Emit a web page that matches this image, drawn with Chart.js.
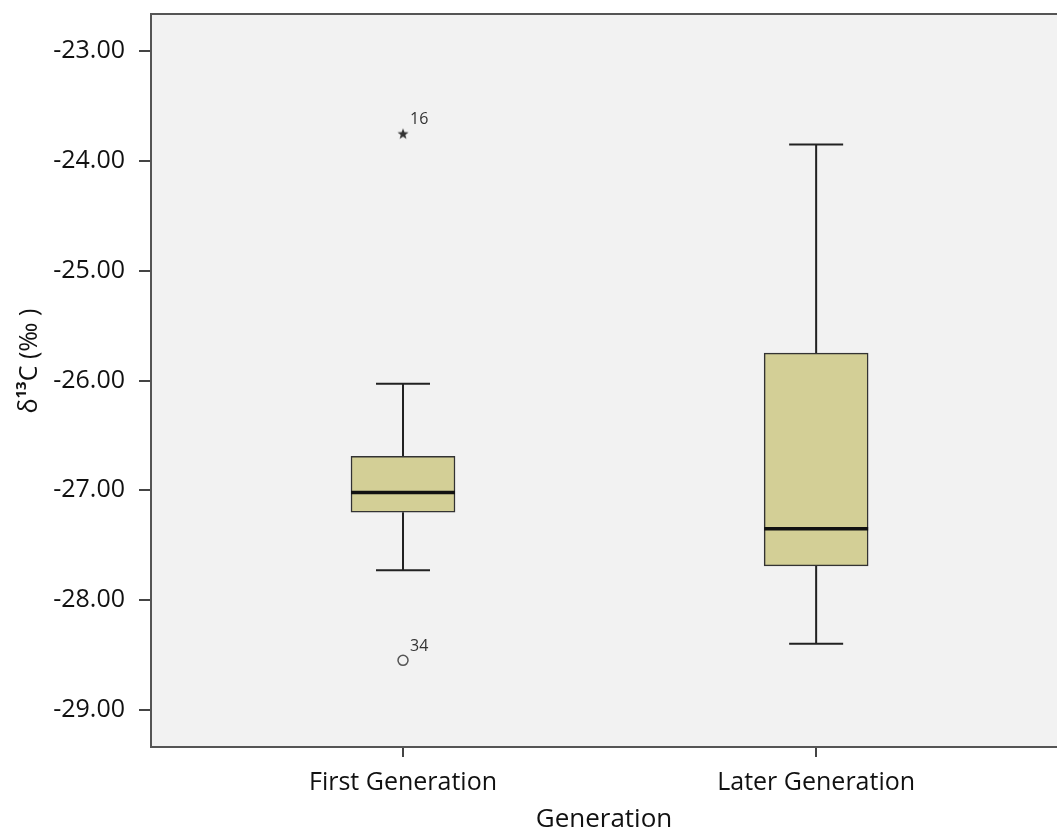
<!DOCTYPE html>
<html>
<head>
<meta charset="utf-8">
<script src="https://cdn.jsdelivr.net/npm/chart.js@4"></script>
<style>
  html, body { margin: 0; padding: 0; background: #fff; overflow: hidden; }
  canvas { display: block; }
</style>
</head>
<body>
<canvas id="myChart" width="1057" height="835"></canvas>
<script>
const categories = ['First Generation', 'Later Generation'];
const q1 = [-27.20, -27.69];
const q3 = [-26.69, -25.75];
const medians = [-27.02, -27.35];
const whiskerLow = [-27.73, -28.40];
const whiskerHigh = [-26.03, -23.85];
const outlierGroup = [1, 1];
const outlierValue = [-23.75, -28.55];
const outlierCase = ['16', '34'];
const yTicks = [-29, -28, -27, -26, -25, -24, -23];

const FONT = "'Open Sans', 'DejaVu Sans', sans-serif";

// small filled star used for the extreme value marker
const star = document.createElement('canvas');
star.width = 12; star.height = 12;
(function () {
    const c = star.getContext('2d');
    c.fillStyle = '#333';
    c.beginPath();
    for (let i = 0; i < 10; i++) {
        const r = i % 2 ? 2.4 : 5.8;
        const a = -Math.PI / 2 + i * Math.PI / 5;
        c.lineTo(6 + r * Math.cos(a), 6.5 + r * Math.sin(a));
    }
    c.closePath();
    c.fill();
})();

const noPad = s => { s.paddingTop = 0; s.paddingBottom = 0; s.paddingLeft = 0; s.paddingRight = 0; };

const boxPlot = {
    id: 'boxPlot',
    beforeDraw(chart) {
        const { ctx, chartArea: a } = chart;
        ctx.save();
        ctx.fillStyle = '#f2f2f2';
        ctx.fillRect(a.left, a.top, a.right - a.left, a.bottom - a.top);
        ctx.restore();
    },
    beforeDatasetsDraw(chart) {
        const { ctx, scales: { x, y } } = chart;
        ctx.save();
        ctx.strokeStyle = '#222';
        ctx.lineWidth = 2;
        categories.forEach((c, i) => {
            const cx = x.getPixelForValue(i + 1);
            const half = 27;
            ctx.beginPath();
            ctx.moveTo(cx, y.getPixelForValue(whiskerLow[i]));
            ctx.lineTo(cx, y.getPixelForValue(q1[i]));
            ctx.moveTo(cx, y.getPixelForValue(q3[i]));
            ctx.lineTo(cx, y.getPixelForValue(whiskerHigh[i]));
            [whiskerLow[i], whiskerHigh[i]].forEach(v => {
                const py = y.getPixelForValue(v);
                ctx.moveTo(cx - half, py);
                ctx.lineTo(cx + half, py);
            });
            ctx.stroke();
        });
        ctx.restore();
    },
    afterDatasetsDraw(chart) {
        const { ctx, scales: { x, y } } = chart;
        const meta = chart.getDatasetMeta(0);
        ctx.save();
        ctx.strokeStyle = '#111';
        ctx.lineWidth = 3.5;
        meta.data.forEach((bar, i) => {
            const py = y.getPixelForValue(medians[i]);
            ctx.beginPath();
            ctx.moveTo(bar.x - bar.width / 2, py);
            ctx.lineTo(bar.x + bar.width / 2, py);
            ctx.stroke();
        });
        ctx.fillStyle = '#333';
        ctx.font = '16px ' + FONT;
        ctx.textBaseline = 'middle';
        ctx.textAlign = 'left';
        outlierCase.forEach((t, i) => {
            ctx.fillText(t, x.getPixelForValue(outlierGroup[i]) + 7, y.getPixelForValue(outlierValue[i]) - 14);
        });
        ctx.restore();
    },
    afterDraw(chart) {
        const { ctx, chartArea: a } = chart;
        ctx.save();
        ctx.strokeStyle = '#555';
        ctx.lineWidth = 2;
        ctx.beginPath();
        ctx.moveTo(a.left, a.top);
        ctx.lineTo(a.right, a.top);
        ctx.stroke();

        // y title: delta 13C (permil) with bold superscript
        ctx.translate(30, 361);
        ctx.rotate(-Math.PI / 2);
        ctx.fillStyle = '#111';
        ctx.textBaseline = 'middle';
        ctx.textAlign = 'left';
        const big = '25px ' + FONT, sup = 'bold 15px ' + FONT;
        ctx.font = big; const w1 = ctx.measureText('δ').width;
        ctx.font = sup; const w2 = ctx.measureText('13').width;
        ctx.font = big; const w3 = ctx.measureText('C (‰ )').width;
        let px = -(w1 + w2 + w3) / 2;
        ctx.font = big; ctx.fillText('δ', px, 0); px += w1;
        ctx.font = sup; ctx.fillText('13', px, -8); px += w2;
        ctx.font = big; ctx.fillText('C (‰ )', px, 0);
        ctx.restore();
    }
};

const ctx = document.getElementById('myChart');

new Chart(ctx, {
    type: 'bar',
    data: {
        datasets: [
            {
                label: 'Box',
                data: categories.map((c, i) => ({ x: i + 1, y: [q1[i], q3[i]] })),
                backgroundColor: '#d3cf96',
                borderColor: '#333',
                borderWidth: 1.5,
                borderSkipped: false,
                barThickness: 104,
            },
            {
                type: 'scatter',
                label: 'Outliers',
                data: outlierValue.map((v, i) => ({ x: outlierGroup[i], y: v })),
                pointStyle: [star, 'circle'],
                pointRadius: 5,
                backgroundColor: 'rgba(0,0,0,0)',
                borderColor: '#555',
                borderWidth: 1.5,
            }
        ]
    },
    options: {
        responsive: false,
        animation: false,
        layout: { autoPadding: false, padding: { top: 14, right: 0, left: 0, bottom: 0 } },
        plugins: {
            legend: { display: false },
            tooltip: { enabled: false },
        },
        scales: {
            x: {
                type: 'linear',
                offset: false,
                min: 0.39,
                max: 2.583,
                afterBuildTicks: s => { s.ticks = categories.map((c, i) => ({ value: i + 1 })); },
                afterFit: s => { s.height = 88; noPad(s); },
                ticks: {
                    callback: v => categories[v - 1],
                    font: { family: FONT, size: 25 },
                    color: '#111',
                    padding: 11,
                    maxRotation: 0,
                },
                grid: { offset: false, drawOnChartArea: false, drawTicks: true, tickLength: 10, color: '#444', lineWidth: 2 },
                border: { display: true, color: '#555', width: 2 },
                title: {
                    display: true,
                    text: 'Generation',
                    font: { family: FONT, size: 26 },
                    color: '#111',
                    padding: { top: 0, bottom: 0 },
                },
            },
            y: {
                min: -29.34,
                max: -22.66,
                afterBuildTicks: s => { s.ticks = yTicks.map(v => ({ value: v })); },
                afterFit: s => { s.width = 151; noPad(s); },
                ticks: {
                    callback: v => v.toFixed(2),
                    font: { family: FONT, size: 25 },
                    color: '#111',
                    padding: 14,
                },
                grid: { drawOnChartArea: false, drawTicks: true, tickLength: 12, color: '#444', lineWidth: 2 },
                border: { display: true, color: '#555', width: 2 },
            }
        }
    },
    plugins: [boxPlot]
});
</script>
</body>
</html>
